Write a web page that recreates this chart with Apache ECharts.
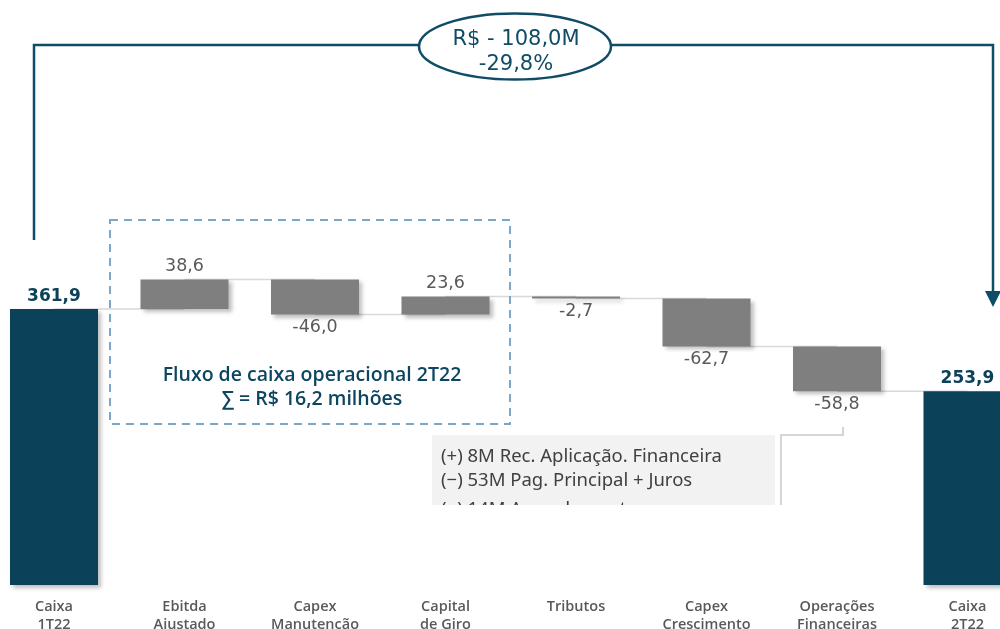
<!DOCTYPE html>
<html><head><meta charset="utf-8">
<script src="https://cdn.jsdelivr.net/npm/echarts@6/dist/echarts.min.js"></script>
<style>html,body{margin:0;padding:0;background:#fff}#c{width:1000px;height:629px}</style>
</head><body><div id="c"></div><script>
const categories = ['Caixa\n1T22','Ebitda\nAjustado','Capex\nManutencão','Capital\nde Giro','Tributos','Capex\nCrescimento','Operações\nFinanceiras','Caixa\n2T22'];
const values = [361.9, 38.6, -46.0, 23.6, -2.7, -62.7, -58.8, 253.9];
const isTotal = [true, false, false, false, false, false, false, true];
const valueLabels = ['361,9','38,6','-46,0','23,6','-2,7','-62,7','-58,8','253,9'];
const axisMin = 0, axisMax = 700;

const DARK = '#0b4159', GRAY = '#7f7f7f', TEXTGRAY = '#595959', LINE = '#0f4c66';

let running = 0; const base = [], size = [], ends = [];
values.forEach((v, i) => {
  if (isTotal[i]) { base.push(0); size.push(v); running = v; }
  else { const s = running; running = s + v; base.push(Math.min(s, running)); size.push(Math.abs(v)); }
  ends.push(running);
});

const barData = size.map((s, i) => {
  const neg = !isTotal[i] && values[i] < 0;
  return {
    value: s,
    itemStyle: { color: isTotal[i] ? DARK : GRAY },
    label: {
      show: true,
      position: neg ? 'bottom' : 'top',
      distance: 4,
      formatter: () => valueLabels[i],
      color: isTotal[i] ? DARK : TEXTGRAY,
      fontWeight: isTotal[i] ? 'bold' : 'normal',
      fontSize: isTotal[i] ? 17 : 17.5,
      fontFamily: '"DejaVu Sans", sans-serif'
    }
  };
});

const connData = ends.slice(0, ends.length - 1).map((e, i) => [i, e]);

const chart = echarts.init(document.getElementById('c'), null, {renderer: 'canvas'});
chart.setOption({
  animation: false,
  backgroundColor: '#fff',
  grid: { left: -11.25, right: -32.75, top: 51, bottom: 44, outerBoundsMode: 'none', containLabel: false },
  xAxis: {
    type: 'category', data: categories,
    axisLine: { show: false }, axisTick: { show: false },
    axisLabel: { color: TEXTGRAY, fontFamily: '"Open Sans", sans-serif', fontWeight: 600, fontSize: 14.5, lineHeight: 18, margin: 13, interval: 0 }
  },
  yAxis: { type: 'value', min: axisMin, max: axisMax, show: false, splitLine: { show: false } },
  series: [
    {
      type: 'custom', z: 1, data: connData,
      renderItem: (params, api) => {
        const i = api.value(0), lvl = api.value(1);
        const p1 = api.coord([i, lvl]), p2 = api.coord([i + 1, lvl]);
        return { type: 'line', shape: { x1: p1[0], y1: p1[1], x2: p2[0], y2: p2[1] }, style: { stroke: '#d9d9d9', lineWidth: 1.5 } };
      }
    },
    { type: 'bar', stack: 'w', z: 2, barWidth: 88, data: base, itemStyle: { color: 'transparent' }, silent: true },
    {
      type: 'bar', stack: 'w', z: 3, barWidth: 88, data: barData,
      itemStyle: { shadowBlur: 4, shadowOffsetX: 3, shadowOffsetY: 3, shadowColor: 'rgba(0,0,0,0.25)' }
    }
  ],
  graphic: [
    { type: 'polyline', z: 10, shape: { points: [[34, 240], [34, 45], [993, 45], [993, 292]] }, style: { stroke: LINE, lineWidth: 2.5, fill: null } },
    { type: 'polygon', z: 10, shape: { points: [[985, 291], [1001, 291], [993, 307]] }, style: { fill: LINE } },
    { type: 'ellipse', z: 11, shape: { cx: 515, cy: 46.5, rx: 96, ry: 33 }, style: { fill: '#fff', stroke: LINE, lineWidth: 2.5 } },
    { type: 'text', z: 12, x: 516, y: 40, style: { text: 'R$ - 108,0M', fill: LINE, font: '500 21px "DejaVu Sans", sans-serif', align: 'center', verticalAlign: 'middle' } },
    { type: 'text', z: 12, x: 516, y: 64.5, style: { text: '-29,8%', fill: LINE, font: '500 21px "DejaVu Sans", sans-serif', align: 'center', verticalAlign: 'middle' } },
    { type: 'rect', z: 5, shape: { x: 110, y: 220, width: 400, height: 204 }, style: { fill: null, stroke: '#7aa7c8', lineWidth: 2, lineDash: [8, 6] } },
    { type: 'text', z: 6, x: 312, y: 375, style: { text: 'Fluxo de caixa operacional 2T22', fill: '#0d4660', font: '600 19.5px "Open Sans", sans-serif', align: 'center', verticalAlign: 'middle' } },
    { type: 'text', z: 6, x: 312, y: 399, style: { text: '∑ = R$ 16,2 milhões', fill: '#0d4660', font: '600 19.5px "Open Sans", sans-serif', align: 'center', verticalAlign: 'middle' } },
    { type: 'rect', z: 5, shape: { x: 432, y: 435, width: 343, height: 70 }, style: { fill: '#f2f2f2' } },
    { type: 'text', z: 6, x: 441, y: 457, style: { text: '(+) 8M Rec. Aplicação. Financeira', fill: '#404040', font: '18.5px "Noto Sans", sans-serif', verticalAlign: 'middle' } },
    { type: 'text', z: 6, x: 441, y: 481, style: { text: '(−) 53M Pag. Principal + Juros', fill: '#404040', font: '18.5px "Noto Sans", sans-serif', verticalAlign: 'middle' } },
    { type: 'text', z: 6, x: 441, y: 510, style: { text: '(−) 14M Arrendamentos', fill: '#404040', font: '18.5px "Noto Sans", sans-serif', verticalAlign: 'middle' } },
    { type: 'rect', z: 7, shape: { x: 428, y: 505, width: 352, height: 30 }, style: { fill: '#fff' } },
    { type: 'polyline', z: 8, shape: { points: [[781, 505], [781, 435], [843, 435], [843, 427]] }, style: { stroke: '#c8c8c8', lineWidth: 1.5, fill: null } }
  ]
});
</script></body></html>
